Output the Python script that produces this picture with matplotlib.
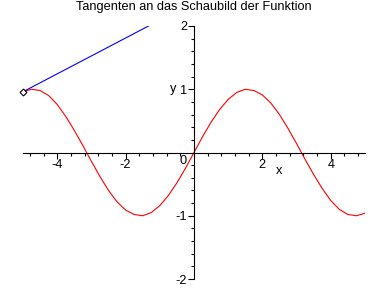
import numpy as np
import matplotlib
matplotlib.use('Agg')
import matplotlib.pyplot as plt
from matplotlib.ticker import MultipleLocator

plt.rcParams['font.family'] = ['Liberation Sans', 'DejaVu Sans']
plt.rcParams['axes.unicode_minus'] = False

# curve
curve_x = [-5.0, -4.75, -4.5, -4.25, -4.0, -3.75, -3.5, -3.25, -3.0, -2.75, -2.5,
           -2.25, -2.0, -1.75, -1.5, -1.25, -1.0, -0.75, -0.5, -0.25, 0.0,
           0.25, 0.5, 0.75, 1.0, 1.25, 1.5, 1.75, 2.0, 2.25, 2.5,
           2.75, 3.0, 3.25, 3.5, 3.75, 4.0, 4.25, 4.5, 4.75, 5.0]
curve_y = [0.96, 1.00, 0.98, 0.90, 0.76, 0.57, 0.35, 0.11, -0.14, -0.38, -0.60,
           -0.78, -0.91, -0.98, -1.00, -0.95, -0.84, -0.68, -0.48, -0.25, 0.0,
           0.25, 0.48, 0.68, 0.84, 0.95, 1.00, 0.98, 0.91, 0.78, 0.60,
           0.38, 0.14, -0.11, -0.35, -0.57, -0.76, -0.90, -0.98, -1.00, -0.96]

tangent_x = [-5.0, -1.33]
tangent_y = [0.96, 2.0]

point_x = [-5.0]
point_y = [0.96]

xticks = [-4, -2, 2, 4]
yticks = [-2, -1, 1, 2]

fig = plt.figure(figsize=(3.88, 2.88), dpi=100)
ax = fig.add_axes([23/388, 9/288, 342/388, 253/288])

ax.plot(curve_x, curve_y, color='red', lw=0.8)
ax.plot(tangent_x, tangent_y, color='blue', lw=0.8)
ax.plot(point_x, point_y, marker='D', ms=3.5, mfc='white', mec='black', mew=0.8,
        ls='none', clip_on=False, zorder=5)

ax.set_xlim(-5, 5)
ax.set_ylim(-2, 2)

ax.spines['left'].set_position(('data', 0))
ax.spines['bottom'].set_position(('data', 0))
ax.spines['right'].set_visible(False)
ax.spines['top'].set_visible(False)
for s in ['left', 'bottom']:
    ax.spines[s].set_linewidth(0.8)

ax.set_xticks(xticks)
ax.set_yticks(yticks)
ax.xaxis.set_minor_locator(MultipleLocator(0.4))
ax.yaxis.set_minor_locator(MultipleLocator(0.2))
ax.tick_params(which='major', direction='out', length=4, width=0.8, labelsize=9.2, pad=1)
ax.tick_params(which='minor', direction='out', length=2, width=0.8)
ax.patch.set_alpha(0)

ax.text(-0.32, -0.04, '0', fontsize=9.2, ha='center', va='top')
ax.text(-0.61, 1.0, 'y', fontsize=9.2, ha='center', va='center')
ax.text(2.49, -0.30, 'x', fontsize=9.2, ha='center', va='center')

fig.text(0.5, 1 - 7/288, 'Tangenten an das Schaubild der Funktion', fontsize=9.2,
         ha='center', va='center')

fig.savefig('out.png', dpi=100)
